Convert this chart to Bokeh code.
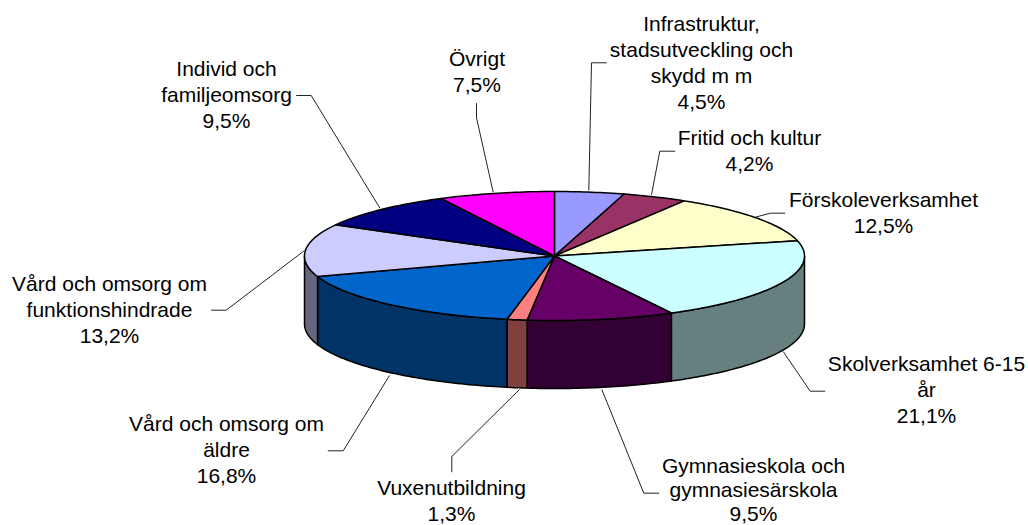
import math
from bokeh.plotting import figure
from bokeh.models import Range1d
from bokeh.core.properties import value
from bokeh.embed import file_html
from bokeh.resources import INLINE

# ---- data ----
categories = [
    ["Infrastruktur,", "stadsutveckling och", "skydd m m"],
    ["Fritid och kultur"],
    ["Förskoleverksamhet"],
    ["Skolverksamhet 6-15", "år"],
    ["Gymnasieskola och", "gymnasiesärskola"],
    ["Vuxenutbildning"],
    ["Vård och omsorg om", "äldre"],
    ["Vård och omsorg om", "funktionshindrade"],
    ["Individ och", "familjeomsorg"],
    ["Övrigt"],
]
shares = [4.5, 4.2, 12.5, 21.1, 9.5, 1.3, 16.8, 13.2, 9.5, 7.5]

# ---- styles ----
top_colors = ["#9999FF", "#993366", "#FFFFCC", "#CCFFFF", "#660066",
              "#FF8080", "#0066CC", "#CCCCFF", "#000080", "#FF00FF"]
side_colors = ["#666680", "#662244", "#808066", "#668080", "#330033",
               "#804040", "#003366", "#666680", "#000040", "#800080"]

# ---- layout (page pixels) ----
CX, CY, RX, RY, DEPTH = 554.0, 255.5, 250.0, 64.5, 68.0
label_x = [701, 749, 883, 926, 753, 451, 226, 109, 226, 476.5]
label_y0 = [31, 145, 207, 371, 473, 495, 431, 291, 76, 66]
LINE_H = [26, 26, 26, 26, 24, 26, 26, 26, 26, 26]
TEXT_SHIFT = -8
FONT = "21px"
leaders = [
    [(606.3, 62.3), (591, 62.3), (588.3, 190)],
    [(674.7, 150.7), (659.3, 150.7), (651, 194.3)],
    [(784.7, 212.7), (770, 212.7), (754.7, 216.7)],
    [(824.7, 390.7), (809.7, 390.7), (782.7, 351)],
    [(658.7, 492.7), (643.3, 492.7), (601.3, 389)],
    [(451.3, 471.7), (451.3, 456), (519, 389)],
    [(327.3, 450.3), (342.7, 450.3), (389, 375)],
    [(210.7, 309.7), (225.7, 309.7), (304, 250)],
    [(295.7, 95), (310.7, 95), (379.3, 207.5)],
    [(476, 102.7), (476, 117.3), (492.7, 191.7)],
]


def pt(t, dy=0.0):
    return CX + RX * math.sin(t), CY - RY * math.cos(t) + dy


def arc(a, b):
    n = max(2, int(abs(b - a) / math.radians(1)) + 2)
    return [a + (b - a) * i / (n - 1) for i in range(n)]


p = figure(width=1028, height=525, output_backend="svg", toolbar_location=None,
           x_range=Range1d(0, 1028), y_range=Range1d(525, 0),
           min_border=0, outline_line_color=None, tools="")
p.xaxis.visible = False
p.yaxis.visible = False
p.grid.visible = False

total = sum(shares)
edges = [0.0]
for s in shares:
    edges.append(edges[-1] + s / total * 2 * math.pi)

LW = 1.5
# leader lines
for seg in leaders:
    p.line([q[0] for q in seg], [q[1] for q in seg], line_color="#222222", line_width=1)

# side walls (front half only)
for i in range(len(shares)):
    a = max(edges[i], math.pi / 2)
    b = min(edges[i + 1], 3 * math.pi / 2)
    if b <= a:
        continue
    ts = arc(a, b)
    up = [pt(t) for t in ts]
    down = [pt(t, DEPTH) for t in reversed(ts)]
    poly = up + down
    p.patch([q[0] for q in poly], [q[1] for q in poly], fill_color=side_colors[i],
            line_color="black", line_width=LW, line_join="round")

# top slices
for i in range(len(shares)):
    ts = arc(edges[i], edges[i + 1])
    poly = [(CX, CY)] + [pt(t) for t in ts]
    p.patch([q[0] for q in poly], [q[1] for q in poly], fill_color=top_colors[i],
            line_color="black", line_width=LW, line_join="round")

# labels
for i, lines in enumerate(categories):
    all_lines = lines + [f"{shares[i]:.1f}%".replace(".", ",")]
    for j, s in enumerate(all_lines):
        p.text([label_x[i]], [label_y0[i] + j * LINE_H[i] + TEXT_SHIFT], text=[s],
               text_font=value("Liberation Sans"), text_font_size=FONT,
               text_color="black", text_align="center", text_baseline="alphabetic")

open("out.html", "w").write(file_html(p, INLINE))
